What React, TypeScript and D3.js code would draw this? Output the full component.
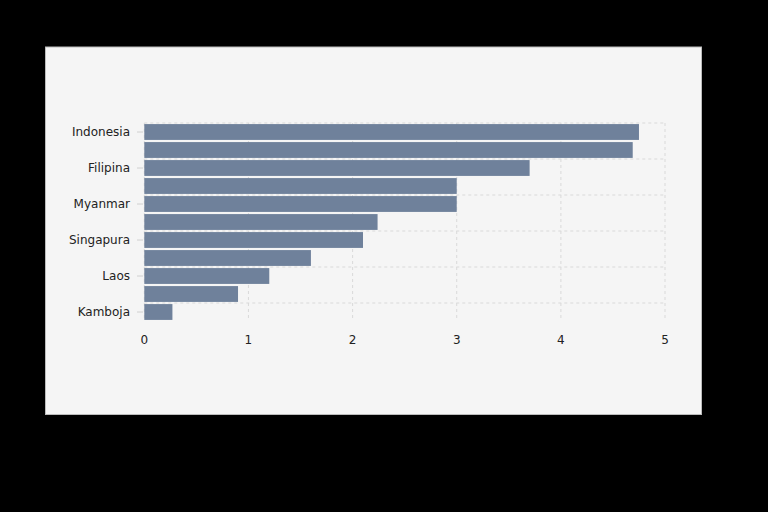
import React from "react";
import * as d3 from "d3";

const categories = [
  "Indonesia",
  "Vietnam",
  "Filipina",
  "Thailand",
  "Myanmar",
  "Malaysia",
  "Singapura",
  "Brunei",
  "Laos",
  "Timor Leste",
  "Kamboja",
];
const values = [4.75, 4.69, 3.7, 3.0, 3.0, 2.24, 2.1, 1.6, 1.2, 0.9, 0.27];
const xTicks = [0, 1, 2, 3, 4, 5];
const shownLabels = ["Indonesia", "Filipina", "Myanmar", "Singapura", "Laos", "Kamboja"];

const W = 768;
const H = 512;
const FONT = "'DejaVu Sans', Verdana, sans-serif";

export default function App() {
  const x = d3.scaleLinear().domain([0, 5]).range([144.3, 665]);
  const y = d3
    .scaleBand<string>()
    .domain(categories)
    .range([123, 321])
    .paddingInner(0.12)
    .paddingOuter(0.06);
  const step = y.step();
  const top = 123;
  const bottom = 321;
  const boundaries = categories
    .map((c, i) => ({ c, i }))
    .filter((d) => d.i % 2 === 0)
    .map((d) => top + d.i * step);

  return (
    <svg
      width={W}
      height={H}
      style={{ position: "absolute", left: 0, top: 0, background: "#000" }}
    >
      <rect x={0} y={0} width={W} height={H} fill="#000" />
      <rect x={45.5} y={47} width={656} height={367.5} fill="#f5f5f5" stroke="#bbb" strokeWidth={1} />
      {/* vertical grid */}
      {xTicks.map((t) => (
        <line
          key={"v" + t}
          x1={x(t)}
          x2={x(t)}
          y1={top}
          y2={bottom}
          stroke="#d9d9d9"
          strokeDasharray="3,3"
          strokeWidth={1}
        />
      ))}
      {/* horizontal grid */}
      {boundaries.map((b, i) => (
        <line
          key={"h" + i}
          x1={x(0)}
          x2={x(5)}
          y1={b}
          y2={b}
          stroke="#d9d9d9"
          strokeDasharray="3,3"
          strokeWidth={1}
        />
      ))}
      {/* bars */}
      {categories.map((c, i) => (
        <rect
          key={c}
          x={x(0)}
          y={y(c)}
          width={x(values[i]) - x(0)}
          height={y.bandwidth()}
          fill="#6f819b"
        />
      ))}
      {/* y labels */}
      {categories.map((c) =>
        shownLabels.includes(c) ? (
          <g key={"l" + c}>
            <line
              x1={137}
              x2={143}
              y1={(y(c) as number) + y.bandwidth() / 2}
              y2={(y(c) as number) + y.bandwidth() / 2}
              stroke="#d0d0d0"
            />
            <text
              x={130}
              y={(y(c) as number) + y.bandwidth() / 2}
              dy="0.35em"
              textAnchor="end"
              fontFamily={FONT}
              fontSize={12}
              fill="#222"
            >
              {c}
            </text>
          </g>
        ) : null
      )}
      {/* x labels */}
      {xTicks.map((t) => (
        <text
          key={"x" + t}
          x={x(t)}
          y={340}
          dy="0.35em"
          textAnchor="middle"
          fontFamily={FONT}
          fontSize={12}
          fill="#222"
        >
          {t}
        </text>
      ))}
    </svg>
  );
}
